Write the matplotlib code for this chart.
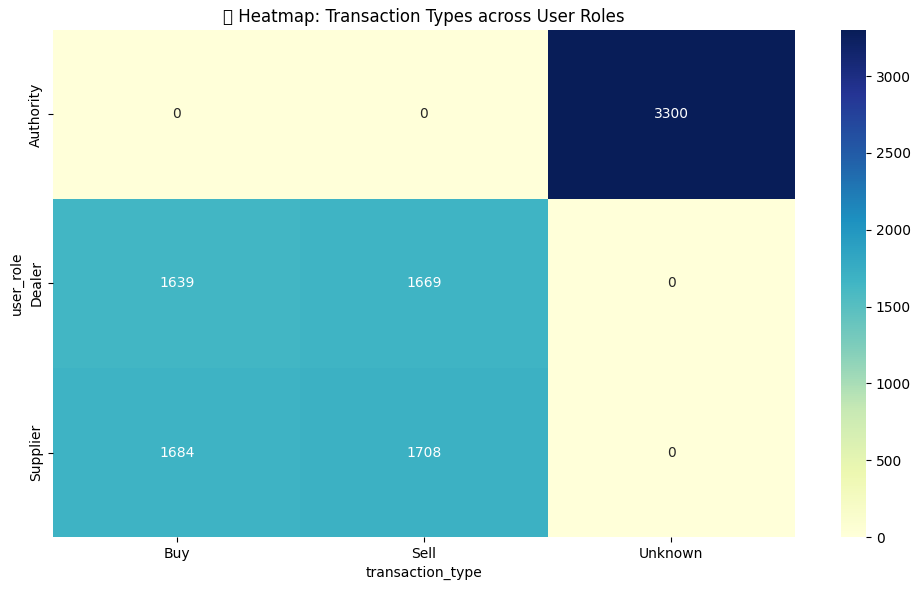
import numpy as np
import pandas as pd
import seaborn as sns
import matplotlib.pyplot as plt

# counts per role / transaction type
user_roles = ['Authority', 'Dealer', 'Supplier']
transaction_types = ['Buy', 'Sell', 'Unknown']
authority_counts = [0, 0, 3300]
dealer_counts = [1639, 1669, 0]
supplier_counts = [1684, 1708, 0]

pivot = pd.DataFrame([authority_counts, dealer_counts, supplier_counts],
                     index=pd.Index(user_roles, name='user_role'),
                     columns=pd.Index(transaction_types, name='transaction_type'))

fig = plt.figure(figsize=(9.21, 5.9), dpi=100)
ax = fig.add_axes([0.0575, 0.0898, 0.8057, 0.8594])
cax = fig.add_axes([0.9131, 0.0898, 0.0271, 0.8594])
sns.heatmap(pivot, annot=True, fmt='d', cmap='YlGnBu', ax=ax, cbar_ax=cax)
ax.set_title('📊 Heatmap: Transaction Types across User Roles')
fig.savefig('out.png', dpi=100)
